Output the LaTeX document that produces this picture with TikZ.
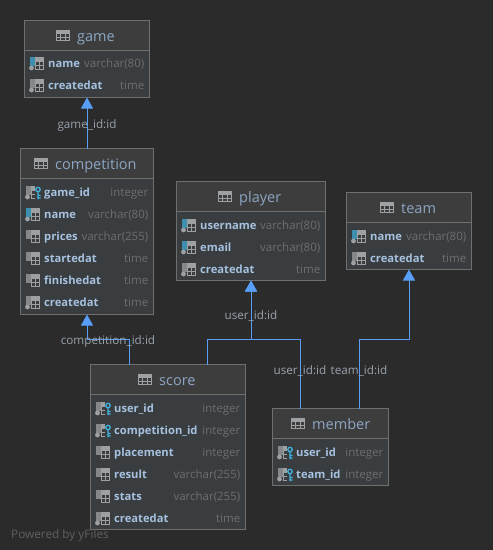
\documentclass[tikz,border=0pt]{standalone}
\usepackage{fontspec}
\setmainfont{Open Sans}
\usetikzlibrary{arrows.meta,calc}
\definecolor{bgc}{HTML}{2B2B2B}
\definecolor{headc}{HTML}{3D3D3D}
\definecolor{bodyc}{HTML}{3A3D3F}
\definecolor{edgec}{HTML}{6E6F6F}
\definecolor{titlec}{HTML}{8DA6C4}
\definecolor{rowc}{HTML}{A6C2E0}
\definecolor{typec}{HTML}{6C6E6F}
\definecolor{labelc}{HTML}{98A2AD}
\definecolor{relc}{HTML}{589DF6}
\definecolor{barblue}{HTML}{3D8FB0}
\definecolor{bargray}{HTML}{84888A}
\definecolor{gridc}{HTML}{9DA1A4}
\definecolor{keyc}{HTML}{3FB4DE}
\definecolor{footc}{HTML}{5F6060}
\tikzset{
  x=1pt,y=-1pt,
  tablebox/.style={draw=edgec,line width=1pt,fill=bodyc,inner sep=0pt,outer sep=0pt},
  titletext/.style={anchor=base west,inner sep=0pt,text=titlec,font=\fontsize{14.5}{15}\selectfont},
  rowtext/.style={anchor=base west,inner sep=0pt,text=rowc,font=\fontsize{11.2}{12}\selectfont\bfseries},
  typetext/.style={anchor=base east,inner sep=0pt,text=typec,font=\fontsize{11.5}{12}\selectfont},
  rellabel/.style={anchor=base,inner sep=0pt,text=labelc,font=\fontsize{11.7}{12}\selectfont},
  rel/.style={draw=relc,line width=1pt},
  relhead/.style={rel,-{Triangle[width=12pt,length=11pt,fill=relc]}},
  footer/.style={anchor=base west,inner sep=0pt,text=footc,font=\fontsize{11.8}{12}\selectfont}
}
% table: name, left, top, right, bottom, title, title text left
\newcommand{\dbtable}[7]{%
  \node[tablebox,minimum width=#4pt-#2pt,minimum height=#5pt-#3pt] (#1) at ({(#2+#4)/2},{(#3+#5)/2}) {};
  \fill[headc] (#2+.5,#3+.5) rectangle (#4-.5,#3+29.5);
  \draw[edgec,line width=1pt] (#2,#3+29.5) -- (#4,#3+29.5);
  \draw[gridc,line width=.9pt] (#7-21,#3+10) rectangle (#7-7.5,#3+20)
     (#7-21,#3+13.3) -- (#7-7.5,#3+13.3) (#7-21,#3+16.7) -- (#7-7.5,#3+16.7)
     (#7-16.5,#3+13.3) -- (#7-16.5,#3+20) (#7-12,#3+13.3) -- (#7-12,#3+20);
  \fill[gridc] (#7-21,#3+10) rectangle (#7-7.5,#3+13.3);
  \node[titletext] (#1-title) at (#7,#3+21.3) {#6};
}
\newcommand{\icongrid}[2]{%
  \draw[gridc,line width=.8pt] (#1+11,#2-6) rectangle (#1+19.3,#2+6)
    (#1+11,#2-2) -- (#1+19.3,#2-2) (#1+11,#2+2) -- (#1+19.3,#2+2) (#1+14.5,#2-2) -- (#1+14.5,#2+6);
  \fill[gridc] (#1+11,#2-6) rectangle (#1+19.3,#2-2);
}
\newcommand{\iconbar}[3]{\fill[#3] (#1+5,#2-6.5) rectangle (#1+10,#2+3);}
\newcommand{\icondot}[2]{\fill[gridc] (#1+7,#2+5) circle (2.4);}
\newcommand{\iconkey}[2]{%
  \fill[bodyc] (#1+14,#2-6) rectangle (#1+20,#2+7);
  \draw[keyc,line width=1.3pt] (#1+17.5,#2-2.5) circle (2.2)
    (#1+17.5,#2-.3) -- (#1+17.5,#2+7) (#1+17.5,#2+3.5) -- (#1+20,#2+3.5) (#1+17.5,#2+6) -- (#1+20,#2+6);
}
% rows: table, left, right, y, kind, row id, name, type
\newcommand{\dbrow}[8]{%
  \icongrid{#2}{#4}%
  \ifcase#5\relax
    \iconbar{#2}{#4}{barblue}\icondot{#2}{#4}%
  \or \iconbar{#2}{#4}{bargray}\icondot{#2}{#4}%
  \or \iconbar{#2}{#4}{bargray}%
  \or \iconbar{#2}{#4}{bargray}\icondot{#2}{#4}\iconkey{#2}{#4}%
  \fi
  \node[rowtext] (#1-#6) at (#2+23.5,#4+4) {#7};
  \node[typetext] (#1-#6-type) at (#3-5,#4+4) {#8};
}
\begin{document}
\begin{tikzpicture}
\useasboundingbox (0,0) rectangle (493,550);
\fill[bgc] (0,0) rectangle (493,550);
\coordinate (busA) at (0,339.5);
\coordinate (scoreP) at (129.5,0);
\coordinate (scoreU) at (207.5,0);
\coordinate (memberU) at (300.5,0);
\coordinate (memberT) at (359.5,0);

\dbtable{game}{24.5}{20.5}{149.5}{97.5}{game}{77}
\dbrow{game}{24.5}{149.5}{63}{0}{a}{name}{varchar(80)}
\dbrow{game}{24.5}{149.5}{85}{1}{b}{createdat}{time}

\dbtable{competition}{20.5}{148.5}{153.5}{314.5}{competition}{55}
\dbrow{competition}{20.5}{153.5}{192}{3}{a}{game\_id}{integer}
\dbrow{competition}{20.5}{153.5}{214}{0}{b}{name}{varchar(80)}
\dbrow{competition}{20.5}{153.5}{236}{2}{c}{prices}{varchar(255)}
\dbrow{competition}{20.5}{153.5}{258}{2}{d}{startedat}{time}
\dbrow{competition}{20.5}{153.5}{280}{2}{e}{finishedat}{time}
\dbrow{competition}{20.5}{153.5}{302}{1}{f}{createdat}{time}

\dbtable{player}{176.5}{181.5}{325.5}{280.5}{player}{239}
\dbrow{player}{176.5}{325.5}{225}{0}{a}{username}{varchar(80)}
\dbrow{player}{176.5}{325.5}{247}{0}{b}{email}{varchar(80)}
\dbrow{player}{176.5}{325.5}{269}{1}{c}{createdat}{time}

\dbtable{team}{346.5}{192.5}{471.5}{269.5}{team}{401}
\dbrow{team}{346.5}{471.5}{236}{0}{a}{name}{varchar(80)}
\dbrow{team}{346.5}{471.5}{258}{1}{b}{createdat}{time}

\dbtable{score}{90.5}{364.5}{245.5}{529.5}{score}{159}
\dbrow{score}{90.5}{245.5}{408}{3}{a}{user\_id}{integer}
\dbrow{score}{90.5}{245.5}{430}{3}{b}{competition\_id}{integer}
\dbrow{score}{90.5}{245.5}{452}{2}{c}{placement}{integer}
\dbrow{score}{90.5}{245.5}{474}{2}{d}{result}{varchar(255)}
\dbrow{score}{90.5}{245.5}{496}{2}{e}{stats}{varchar(255)}
\dbrow{score}{90.5}{245.5}{518}{1}{f}{createdat}{time}

\dbtable{member}{272.5}{408.5}{388.5}{485.5}{member}{312}
\dbrow{member}{272.5}{388.5}{452}{3}{a}{user\_id}{integer}
\dbrow{member}{272.5}{388.5}{474}{3}{b}{team\_id}{integer}

\draw[relhead] (competition.north) -- (game.south);
\draw[relhead] (score.north -| scoreP) -- (scoreP |- busA) -- (competition.south |- busA) -- (competition.south);
\draw[relhead] (score.north -| scoreU) -- (scoreU |- busA) -- (player.south |- busA) -- (player.south);
\draw[relhead] (member.north -| memberU) -- (memberU |- busA) -- (player.south |- busA) -- (player.south);
\draw[relhead] (member.north -| memberT) -- (memberT |- busA) -- (team.south |- busA) -- (team.south);

\node[rellabel] (l1) at (87,128) {game\_id:id};
\node[rellabel] (l2) at (108,344) {competition\_id:id};
\node[rellabel] (l3) at (251,319) {user\_id:id};
\node[rellabel] (l4) at (300,374) {user\_id:id};
\node[rellabel] (l5) at (359,374) {team\_id:id};
\node[footer] (pow) at (11,538) {Powered by yFiles};
\end{tikzpicture}
\end{document}
